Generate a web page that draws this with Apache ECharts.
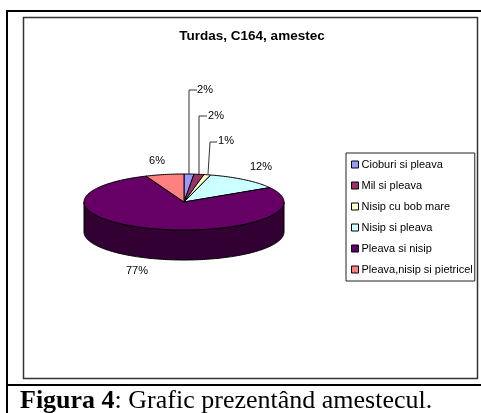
<!DOCTYPE html>
<html><head><meta charset="utf-8">
<style>html,body{margin:0;padding:0;background:#fff}#c{width:481px;height:413px}</style>
<script src="https://cdn.jsdelivr.net/npm/echarts@6/dist/echarts.min.js"></script>
</head><body><div id="c"></div>
<script>
const categories = ['Cioburi si pleava','Mil si pleava','Nisip cu bob mare','Nisip si pleava','Pleava si nisip','Pleava,nisip si pietricel'];
const values = [1.6,1.6,1.1,12.1,77.4,6.2];
const colors = ['#9999FF','#993366','#FFFFCC','#CCFFFF','#660066','#FF8080'];
const chartTitle = 'Turdas, C164, amestec';
const captionBold = 'Figura 4';
const captionRest = ': Grafic prezentând amestecul.';

const pie = {cx:184, cy:202, rx:100, ry:28, depth:30, wall:'#330033'};
// label centres and leader-line paths, by category
const labelAt = [[205,90],[216,116],[226,141],[261,167],[137,271],[157,161]];
const leaders = [
  [[189,174],[189,90],[197,90]],
  [[199,174],[199,116],[207,116]],
  [[208,174],[210,142],[217,142]],
  null,null,null];

const total = values.reduce((a,b)=>a+b,0);
const pt = (t,dy=0)=>[pie.cx+pie.rx*Math.sin(t), pie.cy-pie.ry*Math.cos(t)+dy];
function arc(a,b,dy=0){
  const n=Math.max(2,Math.ceil((b-a)/0.02)), out=[];
  for(let i=0;i<=n;i++) out.push(pt(a+(b-a)*i/n,dy));
  return out;
}
const lineStyle={fill:'none',stroke:'#000',lineWidth:1};
const makeRender = idx => (params,api)=>{
  const before = values.slice(0,idx).reduce((a,b)=>a+b,0);
  const v = api.value(0);
  const a = before/total*2*Math.PI, b=(before+v)/total*2*Math.PI;
  const style = {fill:colors[idx],stroke:'#000',lineWidth:1,lineJoin:'round'};
  const kids=[];
  const fa=Math.max(a,Math.PI/2), fb=Math.min(b,Math.PI*1.5);
  if(fb>fa){
    kids.push({type:'polygon',shape:{points:arc(fa,fb).concat(arc(fa,fb,pie.depth).reverse())},
      style:{...style,fill:pie.wall}});
  }
  kids.push({type:'polygon',shape:{points:[[pie.cx,pie.cy]].concat(arc(a,b))},style});
  if(leaders[idx]) kids.push({type:'polyline',shape:{points:leaders[idx]},style:{...lineStyle,stroke:'#333'}});
  kids.push({type:'text',x:labelAt[idx][0],y:labelAt[idx][1],
    style:{text:Math.round(v)+'%',fill:'#000',font:'11px "Liberation Sans"',align:'center',verticalAlign:'middle'}});
  return {type:'group',children:kids};
};

const chart = echarts.init(document.getElementById('c'),null,{renderer:'canvas'});
chart.setOption({
  animation:false,
  backgroundColor:'#fff',
  title:{text:chartTitle,left:247,top:24,textAlign:'center',
    textStyle:{fontFamily:'Liberation Sans',fontSize:13.5,fontWeight:'bold',color:'#000'}},
  legend:{orient:'vertical',left:346,top:153,itemWidth:7,itemHeight:7,itemGap:10,padding:[6,2,6,5],
    borderColor:'#222',borderWidth:1,backgroundColor:'#fff',icon:'rect',selectedMode:false,
    data:categories,
    itemStyle:{borderColor:'#000',borderWidth:1},
    textStyle:{fontFamily:'Liberation Sans',fontSize:11,color:'#000',padding:[0,0,0,-2]}},
  graphic:[
    {type:'rect',silent:true,z:-1,shape:{x:23.5,y:17.5,width:454,height:361},style:{fill:'#fff',stroke:'#333',lineWidth:1.5}},
    {type:'line',silent:true,z:-1,shape:{x1:7,y1:10,x2:7,y2:413},style:{stroke:'#000',lineWidth:2}},
    {type:'line',silent:true,z:-1,shape:{x1:6,y1:11,x2:481,y2:11},style:{stroke:'#000',lineWidth:2}},
    {type:'line',silent:true,z:-1,shape:{x1:6,y1:385,x2:481,y2:385},style:{stroke:'#000',lineWidth:2}},
    {type:'text',silent:true,x:20,y:401,style:{rich:{b:{font:'bold 26px "Liberation Serif"',fill:'#000'},r:{font:'26px "Liberation Serif"',fill:'#000'}},
      text:'{b|'+captionBold+'}{r|'+captionRest+'}',verticalAlign:'middle'}}
  ],
  series:categories.map((name,i)=>({
    type:'custom',name,coordinateSystem:'none',
    itemStyle:{color:colors[i]},silent:true,
    renderItem:makeRender(i),
    data:[[values[i]]]
  }))
});
</script></body></html>
